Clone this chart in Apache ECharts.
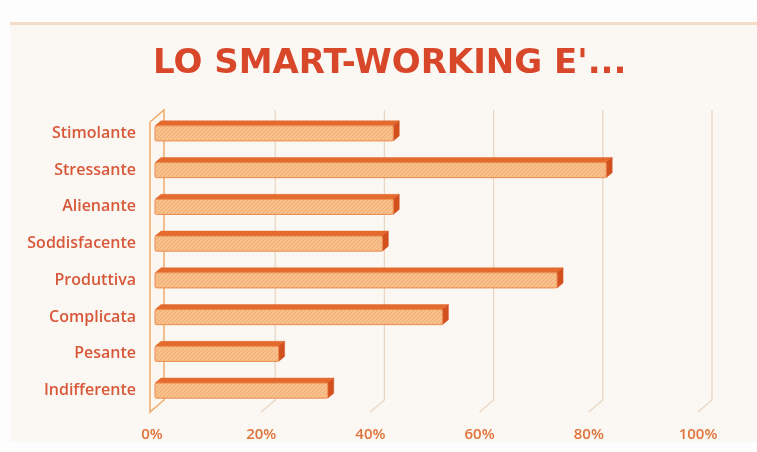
<!DOCTYPE html>
<html>
<head>
<meta charset="utf-8">
<script src="https://cdn.jsdelivr.net/npm/echarts@6/dist/echarts.min.js"></script>
<style>
  html, body { margin: 0; padding: 0; background: #fdfdfd; }
  #frame { position: absolute; left: 10px; top: 22px; width: 747px; height: 420px;
           background: #fbf7f2; border-top: 3px solid #f5dcc8; box-sizing: border-box; }
  #chart { position: absolute; left: 0; top: 0; width: 757px; height: 452px; }
</style>
</head>
<body>
<div id="frame"></div>
<div id="chart"></div>
<script>
// Answers to "Lo smart-working è..." (share of respondents, %)
const categories = ['Stimolante', 'Stressante', 'Alienante', 'Soddisfacente',
                    'Produttiva', 'Complicata', 'Pesante', 'Indifferente'];
const values = [44, 83, 44, 42, 74, 53, 23, 32];
const tickValues = [0, 20, 40, 60, 80, 100];

// hatched fill for the front face of the bars
function hatch() {
  const c = document.createElement('canvas');
  c.width = 4; c.height = 4;
  const g = c.getContext('2d');
  g.fillStyle = '#f8c08a';
  g.fillRect(0, 0, 4, 4);
  g.strokeStyle = 'rgba(236,150,90,0.5)';
  g.lineWidth = 1;
  g.beginPath();
  g.moveTo(0, 4); g.lineTo(4, 0);
  g.moveTo(-1, 1); g.lineTo(1, -1);
  g.moveTo(3, 5); g.lineTo(5, 3);
  g.stroke();
  return c;
}
const hatchFill = { image: hatch(), repeat: 'repeat' };

const DX = 14, DY = -12;   // depth of the 3D floor/walls
const BX = 6, BY = -5;     // depth of each bar

const chart = echarts.init(document.getElementById('chart'), null, { renderer: 'canvas' });

chart.setOption({
  backgroundColor: 'transparent',
  animation: false,
  title: {
    text: "LO SMART-WORKING E'...",
    left: 148,
    top: 42,
    textStyle: {
      fontFamily: 'DejaVu Sans', fontWeight: 'bold', fontSize: 34,
      color: '#d9472b'
    }
  },
  grid: { left: 152, right: 59, top: 115, bottom: 43 },
  xAxis: {
    type: 'value', min: 0, max: 100, interval: 20,
    axisLine: { show: false }, axisTick: { show: false }, splitLine: { show: false },
    axisLabel: { formatter: '{value}%', color: '#e0733a', fontFamily: 'Open Sans',
                 fontWeight: 600, fontSize: 15, margin: 18 }
  },
  yAxis: {
    type: 'category', data: categories, inverse: true,
    axisLine: { show: false }, axisTick: { show: false },
    axisLabel: { color: '#d8583a', fontFamily: 'Open Sans', fontWeight: 600,
                 fontSize: 16, margin: 16 }
  },
  series: [
    {
      // back wall grid lines and the left wall
      type: 'custom',
      silent: true,
      z: 1,
      data: tickValues.map(v => [v]),
      encode: { x: 0 },
      renderItem: function (params, api) {
        const cs = params.coordSys;
        const fx = api.coord([api.value(0), 0])[0];
        const top = cs.y, bot = cs.y + cs.height;
        if (api.value(0) === 0) {
          return {
            type: 'polygon',
            shape: { points: [[fx - 2, top + 7], [fx - 2 + DX, top + DY + 7],
                              [fx - 2 + DX, bot + DY + 3], [fx - 2, bot + 3]] },
            style: { fill: '#fbf6ef', stroke: '#f0ac6c', lineWidth: 1.5 }
          };
        }
        return {
          type: 'polyline',
          shape: { points: [[fx + DX, top - 5], [fx + DX, bot + DY + 3], [fx, bot + 3]] },
          style: { fill: null, stroke: '#e9d6c4', lineWidth: 1.3 }
        };
      }
    },
    {
      // 3D bars
      type: 'custom',
      z: 2,
      data: values.map((v, i) => [v, i]),
      encode: { x: 0, y: 1 },
      renderItem: function (params, api) {
        const cat = api.value(1);
        const p0 = api.coord([0, cat]);
        const p1 = api.coord([api.value(0), cat]);
        const h = api.size([0, 1])[1] * 0.41;
        const x0 = p0[0] + 3, x1 = p1[0] + 1;
        const yTop = p1[1] - h / 2, yBot = p1[1] + h / 2;
        return {
          type: 'group',
          children: [
            { type: 'polygon',
              shape: { points: [[x0, yTop], [x1, yTop], [x1 + BX, yTop + BY], [x0 + BX, yTop + BY]] },
              style: { fill: '#e46a2e', stroke: '#e46a2e', lineWidth: 0.5 } },
            { type: 'polygon',
              shape: { points: [[x1, yTop], [x1 + BX, yTop + BY], [x1 + BX, yBot + BY], [x1, yBot]] },
              style: { fill: '#d24f1e', stroke: '#d24f1e', lineWidth: 0.5 } },
            { type: 'rect',
              shape: { x: x0, y: yTop, width: x1 - x0, height: yBot - yTop, r: 1.5 },
              style: { fill: hatchFill, stroke: '#eb8c4e', lineWidth: 1 } }
          ]
        };
      }
    }
  ]
});
</script>
</body>
</html>
